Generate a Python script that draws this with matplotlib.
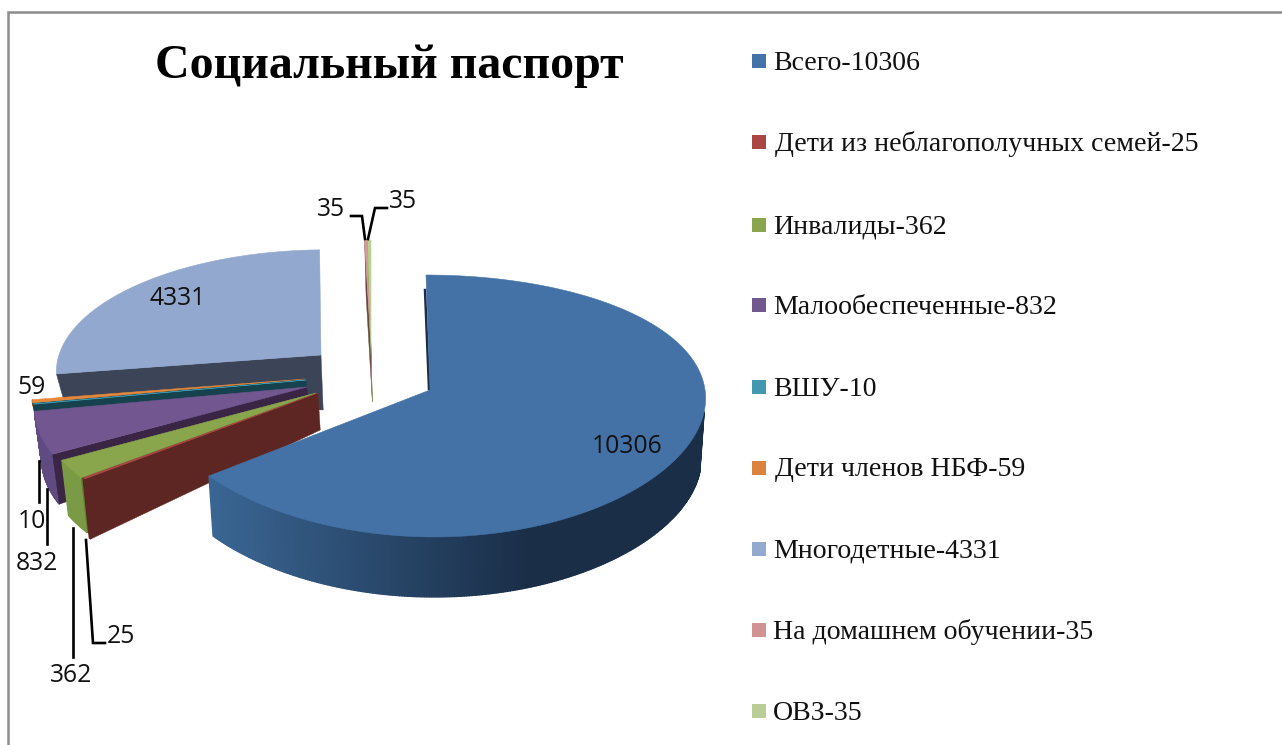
import numpy as np
import matplotlib
matplotlib.use("Agg")
import matplotlib.pyplot as plt
from matplotlib.colors import to_rgb

title = "Социальный паспорт"
categories = ["Всего", "Дети из неблагополучных семей", "Инвалиды", "Малообеспеченные", "ВШУ",
              "Дети членов НБФ", "Многодетные", "На домашнем обучении", "ОВЗ"]
values = [10306, 25, 362, 832, 10, 59, 4331, 35, 35]

top_colors = ["#4472a6", "#aa4644", "#8aa64c", "#72568f", "#3a96ae", "#e6873a", "#92a8cf", "#d89a98", "#b9cf94"]
cut_colors = ["#1a2e47", "#5e2622", "#5f7a34", "#3a2545", "#16424e", "#16424e", "#3c4557", "#6e4442", "#7d9a5a"]
side_colors = ["#3a6694", "#5e2622", "#7a9a46", "#5f4a82", "#16424e", "#a8602a", "#3c4557", "#6e4442", "#7d9a5a"]
legend_colors = ["#4573a7", "#aa4643", "#89a54e", "#71588f", "#4198af", "#db843d", "#93a9cf", "#d19392", "#b9cd96"]

# layout of each exploded slice (pixels): apex, radii, skew, apex depth, rim depth
apex_x = [430, 318, 316, 307, 306, 305, 321, 371, 371]
apex_y = [390, 393, 393, 387, 380, 379, 355, 347, 347]
rad_x = [275, 274, 274, 269, 269, 269, 262, 262, 262]
rad_y = [129, 129, 129, 129, 129, 129, 118, 120, 120]
skew_x = [-4, 0, 0, 0, 0, 0, 5, 0, 0]
persp_x = [0.05, 0.122, 0.122, 0.16, 0.16, 0.16, 0.122, 0.122, 0.122]
apex_d = [60, 37, 30, 30, 30, 30, 55, 55, 55]
rim_d = [60, 60, 55, 50, 30, 30, 24, 55, 55]
persp_y = 0.122
vanish_x, shrink = 450, 0.017
draw_order = [6, 7, 8, 5, 4, 3, 2, 1, 0]

legend_y = [61, 142, 225, 305, 387, 468, 549, 630, 711]
legend_x = [773, 775, 773, 773, 773, 775, 773, 773, 773]
label_texts = ["10306", "25", "362", "832", "10", "59", "4331", "35", "35"]
label_x = [627, 121, 71, 37, 32, 32, 178, 331, 403]
label_y = [446.5, 636.5, 675, 564, 521, 387, 298.5, 209, 201]
leader_lines = [[(86, 540), (93, 643), (105, 643)], [(73, 528), (73, 657)], [(47, 489), (47, 544)],
                [(39, 461), (39, 502)], [(351, 216), (362, 216), (365, 239)], [(387, 208), (375, 208), (368, 239)]]

fig = plt.figure(figsize=(12.82, 7.45), dpi=100)
ax = fig.add_axes([0, 0, 1, 1])
ax.set_xlim(0, 1282)
ax.set_ylim(745, 0)
ax.axis("off")

angles = np.concatenate([[0], np.cumsum(values)]) / np.sum(values) * 360.0


def rim(theta, i):
    t = np.radians(theta)
    c = np.cos(t)
    x = apex_x[i] + rad_x[i] * np.sin(t) / (1.0 + persp_x[i] * c) + skew_x[i] * c
    y = apex_y[i] - rad_y[i] * c / (1.0 + persp_y * c)
    return x, y


def lower(x, y, d):
    return x + (vanish_x - x) * shrink, y + d


def mix(a, b, t):
    a, b = np.array(to_rgb(a)), np.array(to_rgb(b))
    return tuple(a + (b - a) * t)


for i in draw_order:
    a0, a1 = angles[i], angles[i + 1]
    th = np.linspace(a0, a1, max(3, int((a1 - a0) * 2) + 2))
    xs, ys = rim(th, i)
    xb, yb = lower(xs, ys, rim_d[i])
    # outer wall, front-facing part only, in narrow strips for the shading
    for j in range(len(th) - 1):
        if np.cos(np.radians(th[j])) > -0.16:
            continue
        if i == 0:
            col = mix(side_colors[0], cut_colors[0], np.clip((xs[j] - 209) / 320, 0, 1))
        else:
            col = side_colors[i]
        ax.fill([xs[j], xs[j + 1], xb[j + 1], xb[j]], [ys[j], ys[j + 1], yb[j + 1], yb[j]],
                color=col, lw=1.0, zorder=2)
    # cut face on the starting edge
    if i != 0:
        x0, y0 = rim(a0, i)
        xbr, ybr = lower(x0, y0, rim_d[i])
        xba, yba = lower(apex_x[i], apex_y[i], apex_d[i])
        ax.fill([apex_x[i], x0, xbr, xba], [apex_y[i], y0, ybr, yba], color=cut_colors[i], lw=0.3, zorder=2)
    ax.fill(np.r_[apex_x[i], xs], np.r_[apex_y[i], ys], color=top_colors[i], lw=0.4, zorder=2)

# dark edge along the back cut of the main slice
xr, yr = rim(0, 0)
ax.plot([xr - 1, apex_x[0] - 1], [yr + 15, apex_y[0] - 1], color=cut_colors[0], lw=1.8, zorder=1.5)

for pts in leader_lines:
    ax.plot(*zip(*pts), color="black", lw=1.9, solid_joinstyle="miter", zorder=4)

for t, x, y in zip(label_texts, label_x, label_y):
    ax.text(x, y, t, family="Open Sans", fontsize=17.8, color="#111111", ha="center", va="center", zorder=5)

ax.text(389, 66, title, family="Liberation Serif", fontweight="bold", fontsize=34.5, ha="center", va="center", zorder=5)

for name, v, c, x, y in zip(categories, values, legend_colors, legend_x, legend_y):
    ax.scatter([759], [y], marker="s", s=105, color=c, linewidths=0, zorder=5)
    ax.text(x, y + 2, f"{name}-{v}", family="Liberation Serif", fontsize=20.1, color="#111111",
            ha="left", va="center", zorder=5)

# chart frame (only its top and left sides are in the crop)
ax.plot([7.5, 7.5, 1282], [745, 11.5, 11.5], color="#8c8c8c", lw=1.8, solid_joinstyle="miter", zorder=1)

fig.savefig("out.png", dpi=100)
